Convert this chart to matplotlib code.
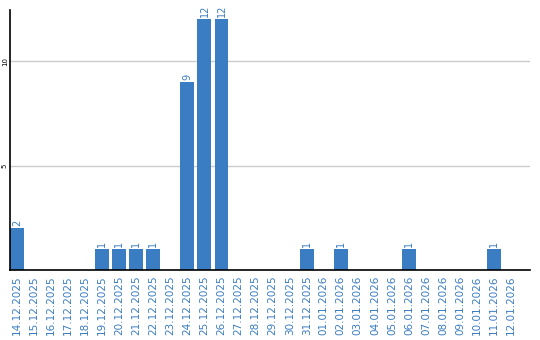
import matplotlib
matplotlib.use('Agg')
import matplotlib.pyplot as plt

dates = ['14.12.2025', '15.12.2025', '16.12.2025', '17.12.2025', '18.12.2025',
         '19.12.2025', '20.12.2025', '21.12.2025', '22.12.2025', '23.12.2025',
         '24.12.2025', '25.12.2025', '26.12.2025', '27.12.2025', '28.12.2025',
         '29.12.2025', '30.12.2025', '31.12.2025', '01.01.2026', '02.01.2026',
         '03.01.2026', '04.01.2026', '05.01.2026', '06.01.2026', '07.01.2026',
         '08.01.2026', '09.01.2026', '10.01.2026', '11.01.2026', '12.01.2026']
counts = [2, 0, 0, 0, 0, 1, 1, 1, 1, 0, 9, 12, 12, 0, 0, 0, 0, 1, 0, 1,
          0, 0, 0, 1, 0, 0, 0, 0, 1, 0]

blue = '#3b7dc2'

fig = plt.figure(figsize=(5.4, 3.4), dpi=100)
ax = fig.add_axes([10 / 540, 1 - 270 / 340, 520 / 540, 260 / 340])

x = list(range(len(dates)))
ax.bar(x, counts, width=0.82, color=blue, zorder=2)

for i, v in zip(x, counts):
    if v > 0:
        ax.text(i, v + 0.12, str(v), rotation=90, ha='center', va='bottom',
                color=blue, fontsize=7)

ax.set_xlim(-0.41, 30.1)
ax.set_ylim(0, 12.45)
ax.set_yticks([5, 10])
ax.set_yticklabels(['5', '10'], rotation=90, va='center', fontsize=5)
ax.yaxis.grid(True, color='#cccccc', linewidth=1, zorder=0)
ax.tick_params(axis='y', length=0, pad=1.5)
ax.set_xticks(x)
ax.set_xticklabels(dates, rotation=90, color=blue, fontsize=7.5)
ax.tick_params(axis='x', length=0, pad=4)

for side in ['top', 'right']:
    ax.spines[side].set_visible(False)
ax.spines['left'].set_linewidth(1.2)
ax.spines['bottom'].set_linewidth(1.2)

fig.savefig('out.png', dpi=100)
